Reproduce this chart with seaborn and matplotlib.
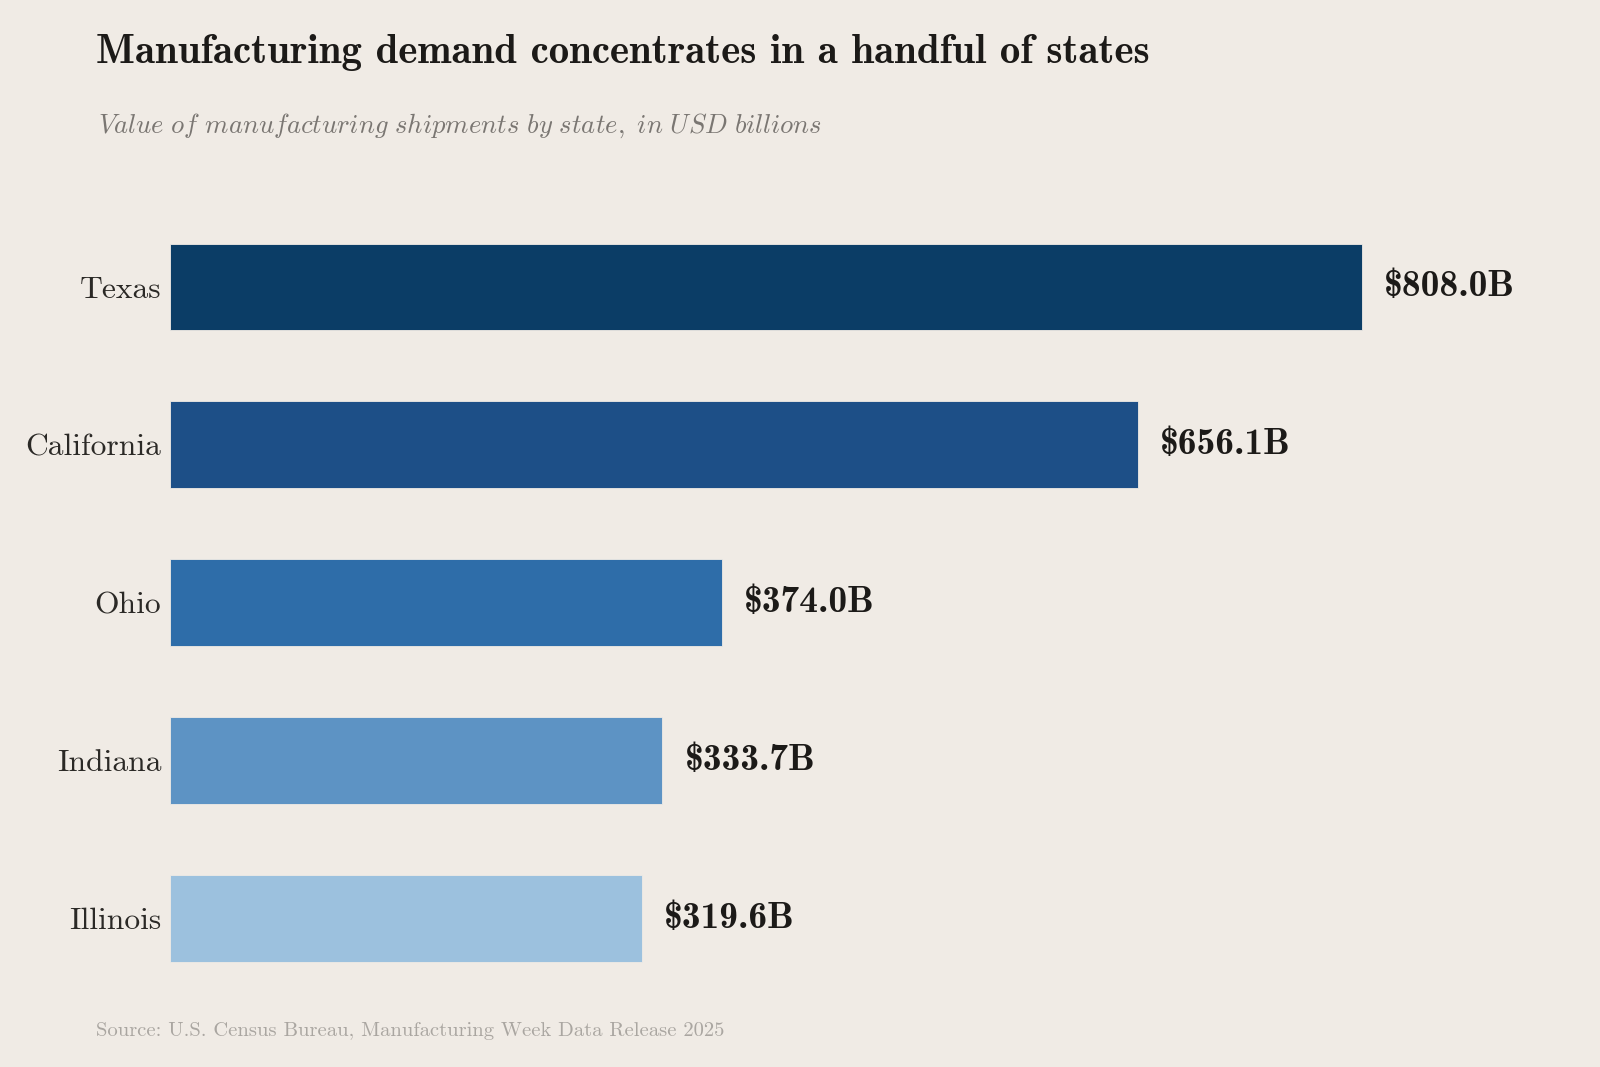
import matplotlib
matplotlib.use("Agg")
import matplotlib.pyplot as plt
import seaborn as sns
import pandas as pd

states = ["Texas", "California", "Ohio", "Indiana", "Illinois"]
shipments = [808.0, 656.1, 374.0, 333.7, 319.6]
bar_colors = ["#0B3D66", "#1D4F87", "#2E6DA9", "#5D93C4", "#9CC1DE"]

BG = "#F0EBE5"

sns.set_theme(style="white")
plt.rcParams["font.family"] = ["cmr10", "DejaVu Serif"]
plt.rcParams["mathtext.fontset"] = "cm"
plt.rcParams["axes.formatter.use_mathtext"] = True

df = pd.DataFrame({"state": states, "value": shipments})

fig = plt.figure(figsize=(16, 10.67), dpi=100, facecolor=BG)
ax = fig.add_axes([0.1065, 0.0656, 0.88, 0.7394])
ax.set_facecolor(BG)

sns.barplot(data=df, x="value", y="state", hue="state", palette=bar_colors,
            legend=False, width=0.55, saturation=1, edgecolor=BG, linewidth=0.6, ax=ax)

for i, v in enumerate(shipments):
    ax.annotate(f"\\${v:.1f}B", xy=(v, i), xytext=(16, 0), textcoords="offset points",
                va="center", ha="left", fontsize=27, family="cmb10", color="#1c1a18")

ax.set_xlim(0, 955)
ax.set_xlabel("")
ax.set_ylabel("")
ax.set_xticks([])
ax.tick_params(axis="y", length=0, pad=6.5, labelsize=22.7, labelcolor="#2b2926")
sns.despine(ax=ax, left=True, bottom=True)

fig.text(0.06, 0.941, "Manufacturing demand concentrates in a handful of states",
         family="cmb10", fontsize=29.5, color="#1c1a18", va="baseline")
fig.text(0.061, 0.876,
         r"$\mathit{Value\ of\ manufacturing\ shipments\ by\ state,\ in\ USD\ billions}$",
         fontsize=19.2, color="#7a7672", va="baseline")
fig.text(0.06, 0.029, "Source: U.S. Census Bureau, Manufacturing Week Data Release 2025",
         fontsize=14.8, color="#aaa6a1", va="baseline")

fig.savefig("out.png", dpi=100, facecolor=BG)
